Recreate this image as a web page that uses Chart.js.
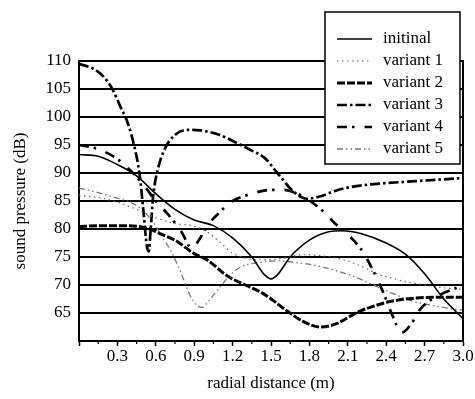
<!DOCTYPE html>
<html>
<head>
<meta charset="utf-8">
<script src="https://cdn.jsdelivr.net/npm/chart.js@4/dist/chart.umd.min.js"></script>
<style>
html,body{margin:0;padding:0;background:#fff;}
#wrap{position:relative;width:475px;height:399px;}
</style>
</head>
<body>
<div id="wrap"><canvas id="c" width="475" height="399"></canvas></div>
<script>
// ---- data ----
const seriesLabels = ['initinal','variant 1','variant 2','variant 3','variant 4','variant 5'];
const xTickLabels = ['0.3','0.6','0.9','1.2','1.5','1.8','2.1','2.4','2.7','3.0'];
const yTickLabels = [65,70,75,80,85,90,95,100,105,110];

const initialX = [0,0.15,0.3,0.45,0.6,0.75,0.9,1.05,1.2,1.35,1.45,1.5,1.55,1.65,1.8,1.95,2.06,2.2,2.4,2.55,2.7,2.85,3.0];
const initialY = [93.3,93,91.5,89.5,86.3,83.5,81.6,80.6,78.4,75,71.8,71.1,71.8,75,78,79.5,79.7,79.2,77.5,75.5,72,67.5,64];

const variant1X = [0,0.15,0.3,0.45,0.6,0.75,0.9,1.0,1.1,1.2,1.3,1.45,1.6,1.75,1.9,2.05,2.2,2.35,2.45,2.55,2.7,2.85,3.0];
const variant1Y = [86,85.6,84.8,83.5,82,81,80.5,79.5,77.7,75.7,74.8,74.5,74.8,75.4,75.2,74.6,73.4,71.8,71.2,70.6,70,69.5,69.2];

const variant2X = [0,0.15,0.3,0.45,0.55,0.65,0.75,0.9,1.0,1.16,1.3,1.43,1.63,1.75,1.89,2.0,2.19,2.3,2.42,2.6,2.8,3.0];
const variant2Y = [80.4,80.6,80.6,80.5,80,79,78,75.6,74.5,71.6,70,68.6,65.3,63.5,62.5,63,65.3,66.2,67,67.6,67.8,67.8];

const variant3X = [0,0.12,0.2,0.26,0.33,0.38,0.44,0.475,0.5,0.53,0.545,0.56,0.58,0.62,0.67,0.75,0.85,0.95,1.1,1.22,1.35,1.45,1.55,1.68,1.78,1.88,2.0,2.1,2.25,2.4,2.6,2.8,3.0];
const variant3Y = [109.5,108.5,107,105,101.5,99,94,89.5,84,77,76,80,86,91,94.3,96.8,97.7,97.6,96.8,95.5,94,92.7,90,86.6,85.4,85.8,86.8,87.4,87.9,88.2,88.5,88.8,89.1];

const variant4X = [0,0.1,0.2,0.3,0.4,0.5,0.6,0.7,0.8,0.88,0.95,1.0,1.1,1.2,1.35,1.5,1.6,1.75,1.9,2.0,2.1,2.2,2.3,2.38,2.45,2.52,2.6,2.67,2.8,2.95];
const variant4Y = [95,94.6,93.8,92.5,90.5,88,85,82.5,79.5,76.6,78.5,80.5,83,85,86.3,87,87,85.8,83.3,81,79,76.5,72.5,68.5,64.5,61.5,63.2,65.8,68,69.5];

const variant5X = [0,0.15,0.3,0.4,0.5,0.6,0.65,0.72,0.8,0.86,0.93,0.97,1.0,1.08,1.19,1.27,1.4,1.55,1.7,1.85,2.0,2.15,2.3,2.45,2.62,2.75,2.9,3.0];
const variant5Y = [87.3,86.5,85.5,84.8,83.3,80.5,78.6,76,72,68.5,66.2,66,66.8,69,72,73.3,74,74.3,74,73.5,72.6,71.5,70,68.5,67,66.4,65.8,65.5];

// ---- styles ----
const styles = [
  {color:'#000', width:1.6, dash:[]},
  {color:'#666', width:1.2, dash:[1.5,3.5]},
  {color:'#000', width:3, dash:[8,2]},
  {color:'#000', width:2.7, dash:[10,3,2.5,3]},
  {color:'#000', width:2.7, dash:[10,5,2.5,10]},
  {color:'#777', width:1.3, dash:[6,3,1.5,3,1.5,3]}
];
const xs = [initialX,variant1X,variant2X,variant3X,variant4X,variant5X];
const ys = [initialY,variant1Y,variant2Y,variant3Y,variant4Y,variant5Y];

const datasets = seriesLabels.map((lab,i)=>({
  label: lab,
  data: xs[i].map((x,j)=>({x:x,y:ys[i][j]})),
  borderColor: styles[i].color,
  borderWidth: styles[i].width,
  borderDash: styles[i].dash,
  pointRadius: 0,
  fill: false,
  cubicInterpolationMode: 'monotone'
}));

const FONT = '"Liberation Serif", "Times New Roman", serif';

const framePlugin = {
  id: 'frame',
  afterDraw(chart){
    const ctx = chart.ctx, a = chart.chartArea, xs = chart.scales.x;
    ctx.save();
    ctx.strokeStyle = '#000'; ctx.lineWidth = 2; ctx.setLineDash([]);
    ctx.beginPath(); ctx.moveTo(a.right, a.top-1); ctx.lineTo(a.right, a.bottom+1); ctx.stroke();
    ctx.lineWidth = 1.2;
    for (let k = 1; k < 20; k += 2) {
      const px = xs.getPixelForValue(k*0.15);
      ctx.beginPath(); ctx.moveTo(px, a.bottom); ctx.lineTo(px, a.bottom+3); ctx.stroke();
    }
    const L = 325, T = 12, R = 460, B = 164;
    ctx.fillStyle = '#fff';
    ctx.fillRect(L, T, R-L, B-T);
    ctx.lineWidth = 1.5;
    ctx.strokeRect(L, T, R-L, B-T);
    ctx.font = '17px ' + FONT;
    ctx.textBaseline = 'middle';
    ctx.textAlign = 'left';
    chart.data.datasets.forEach((ds,i)=>{
      const y = 39 + i*22;
      ctx.strokeStyle = ds.borderColor;
      ctx.lineWidth = ds.borderWidth;
      ctx.setLineDash(ds.borderDash);
      ctx.beginPath(); ctx.moveTo(337, y); ctx.lineTo(372, y); ctx.stroke();
      ctx.setLineDash([]);
      ctx.fillStyle = '#000';
      ctx.fillText(ds.label, 383, y);
    });
    ctx.restore();
  }
};

new Chart(document.getElementById('c'), {
  type: 'line',
  data: { datasets: datasets },
  plugins: [framePlugin],
  options: {
    responsive: false,
    animation: false,
    layout: { padding: { top: 61, right: 12, bottom: 4, left: 4 } },
    plugins: { legend: { display: false }, tooltip: { enabled: false } },
    scales: {
      x: {
        type: 'linear', min: 0, max: 3.0,
        afterBuildTicks(s){ s.ticks = []; for (let k=0;k<=10;k++) s.ticks.push({value: k*0.3}); },
        ticks: {
          color: '#000', font: { family: FONT, size: 17 }, padding: 0, maxRotation: 0, autoSkip: false,
          callback(v){ const t = (Math.round(v*10)/10).toFixed(1); return xTickLabels.includes(t) ? t : ''; }
        },
        grid: { drawOnChartArea: false, drawTicks: true, tickLength: 5, tickColor: '#000', tickWidth: 1.5 },
        border: { display: true, color: '#000', width: 2 },
        title: { display: true, text: 'radial distance (m)', color: '#000', font: { family: FONT, size: 17 }, padding: { top: 6, bottom: 1 } },
        afterFit(s){ s.height = 399 - 341 - 4; }
      },
      y: {
        type: 'linear', min: 60, max: 110,
        afterBuildTicks(s){ s.ticks = [{value:60}].concat(yTickLabels.map(v=>({value:v}))); },
        ticks: {
          color: '#000', font: { family: FONT, size: 17 }, padding: 8,
          callback(v){ return yTickLabels.includes(v) ? String(v) : ''; }
        },
        grid: {
          drawTicks: false,
          color: (c)=> (c.tick && c.tick.value === 60) ? 'rgba(0,0,0,0)' : '#000',
          lineWidth: 2
        },
        border: { display: true, color: '#000', width: 2 },
        title: { display: true, text: 'sound pressure (dB)', color: '#000', font: { family: FONT, size: 17 }, padding: { top: 6, bottom: 0 } },
        afterFit(s){ s.width = 79 - 4; }
      }
    }
  }
});
</script>
</body>
</html>
